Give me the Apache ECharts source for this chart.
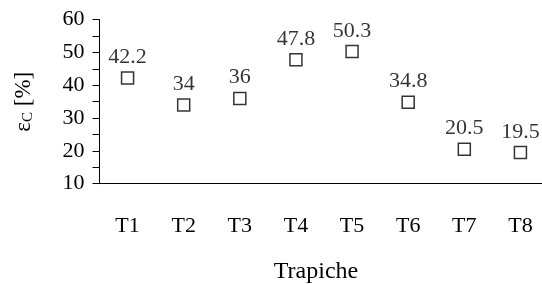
<!DOCTYPE html>
<html>
<head>
<meta charset="utf-8">
<script src="https://cdn.jsdelivr.net/npm/echarts@6/dist/echarts.min.js"></script>
<style>
  html, body { margin: 0; padding: 0; background: #fff; }
  #chart { width: 542px; height: 284px; }
</style>
</head>
<body>
<div id="chart"></div>
<script>
// data
let trapiches = ['T1', 'T2', 'T3', 'T4', 'T5', 'T6', 'T7', 'T8'];
let epsilonC = [42.2, 34, 36, 47.8, 50.3, 34.8, 20.5, 19.5];
let yTicks = [10, 20, 30, 40, 50, 60];

let font = '"Liberation Serif", "DejaVu Serif", serif';
let chart = echarts.init(document.getElementById('chart'));

let option = {
  backgroundColor: '#fff',
  animation: false,
  grid: {
    left: 99.5,
    width: 449,
    top: 19.7,
    bottom: 100.3,
    outerBoundsMode: 'none',
    containLabel: false
  },
  xAxis: {
    type: 'category',
    data: trapiches,
    boundaryGap: true,
    name: 'Trapiche',
    nameLocation: 'middle',
    nameGap: 76,
    nameTextStyle: {
      color: '#000',
      fontFamily: font,
      fontSize: 24,
      padding: [0, 16, 0, 0]
    },
    axisLine: { lineStyle: { color: '#000', width: 1 } },
    axisTick: { alignWithLabel: true, length: 10, lineStyle: { color: '#000' } },
    axisLabel: { color: '#000', fontFamily: font, fontSize: 22, margin: 32 },
    splitLine: { show: false }
  },
  yAxis: {
    type: 'value',
    min: yTicks[0],
    max: yTicks[yTicks.length - 1],
    interval: 5,
    name: '{e|ε}{s|C} [%]',
    nameLocation: 'middle',
    nameGap: 64,
    nameRotate: 90,
    nameTextStyle: {
      color: '#000',
      fontFamily: font,
      fontSize: 23,
      rich: {
        e: { fontFamily: font, fontSize: 23, color: '#000' },
        s: { fontFamily: font, fontSize: 15, color: '#000', verticalAlign: 'bottom', padding: [9, 0, 0, 0] }
      }
    },
    axisLine: { show: true, lineStyle: { color: '#000', width: 1 } },
    axisTick: { show: true, length: 7, lineStyle: { color: '#000' } },
    axisLabel: {
      color: '#000',
      fontFamily: font,
      fontSize: 22,
      margin: 15,
      formatter: function (v) {
        return yTicks.indexOf(v) >= 0 ? String(v) : '';
      }
    },
    splitLine: { show: false }
  },
  series: [
    {
      name: 'εC',
      type: 'scatter',
      data: epsilonC,
      symbol: 'rect',
      symbolSize: 12,
      itemStyle: {
        color: '#fff',
        borderColor: '#000',
        borderWidth: 1.5
      },
      label: {
        show: true,
        position: 'top',
        distance: 3,
        color: '#000',
        fontFamily: font,
        fontSize: 22
      }
    }
  ]
};

chart.setOption(option);
</script>
</body>
</html>
